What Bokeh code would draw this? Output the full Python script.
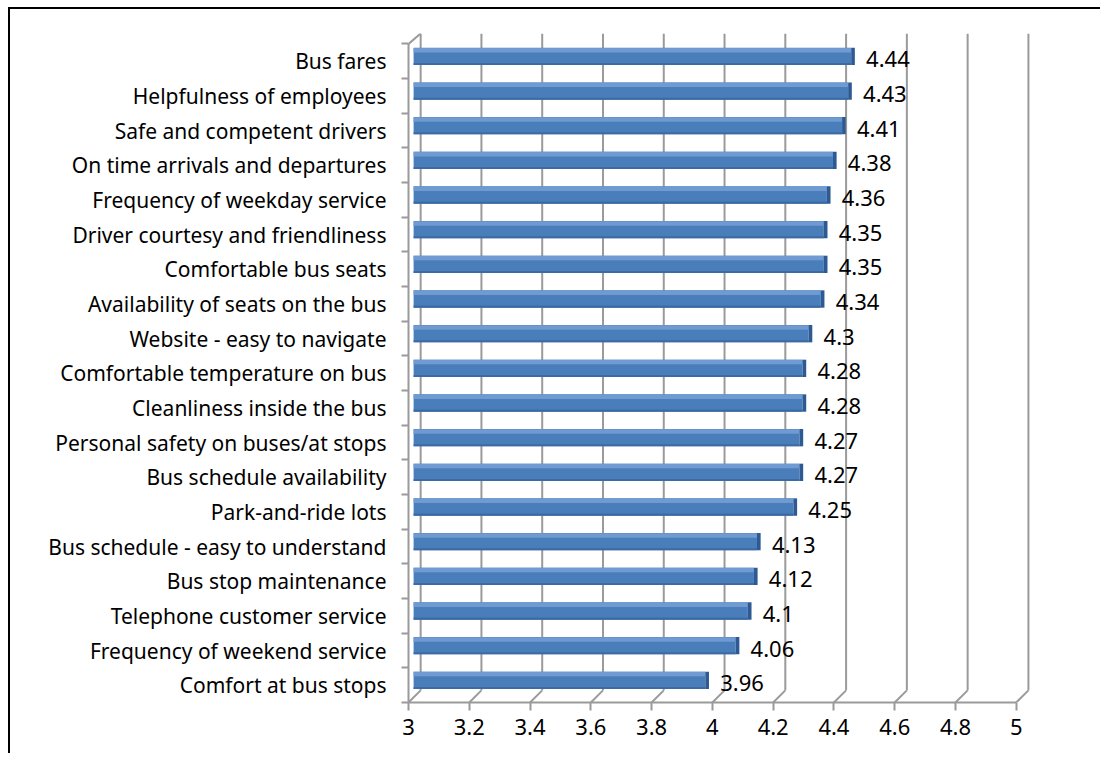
from bokeh.plotting import figure
from bokeh.models import FixedTicker, Range1d, ColumnDataSource
from bokeh.core.properties import value
from bokeh.embed import file_html
from bokeh.resources import INLINE

categories = [
    "Bus fares",
    "Helpfulness of employees",
    "Safe and competent drivers",
    "On time arrivals and departures",
    "Frequency of weekday service",
    "Driver courtesy and friendliness",
    "Comfortable bus seats",
    "Availability of seats on the bus",
    "Website - easy to navigate",
    "Comfortable temperature on bus",
    "Cleanliness inside the bus",
    "Personal safety on buses/at stops",
    "Bus schedule availability",
    "Park-and-ride lots",
    "Bus schedule - easy to understand",
    "Bus stop maintenance",
    "Telephone customer service",
    "Frequency of weekend service",
    "Comfort at bus stops",
]
scores = [4.44, 4.43, 4.41, 4.38, 4.36, 4.35, 4.35, 4.34, 4.3, 4.28, 4.28,
          4.27, 4.27, 4.25, 4.13, 4.12, 4.1, 4.06, 3.96]
score_labels = ["4.44", "4.43", "4.41", "4.38", "4.36", "4.35", "4.35", "4.34", "4.3",
                "4.28", "4.28", "4.27", "4.27", "4.25", "4.13", "4.12", "4.1", "4.06", "3.96"]
x_ticks = [3.0, 3.2, 3.4, 3.6, 3.8, 4.0, 4.2, 4.4, 4.6, 4.8, 5.0]
x_tick_labels = ["3", "3.2", "3.4", "3.6", "3.8", "4", "4.2", "4.4", "4.6", "4.8", "5"]

FONT = "Noto Sans"
GRID = "#9a9a9a"
n = len(categories)
centers = [n - 1 - i + 0.5 for i in range(n)]
bounds = list(range(n + 1))

# 3D depth offsets (in data units)
DX = 0.04      # full depth, x
DY = 0.35      # full depth, y
hx = DX * 0.42
hy = DY * 0.40

p = figure(width=1092, height=746, output_backend="svg", toolbar_location=None,
           x_range=Range1d(3, 5.06), y_range=Range1d(0, n + 0.3),
           min_border_left=398, min_border_right=68, min_border_top=24,
           min_border_bottom=53, x_axis_location="below", y_axis_location="left")
p.styles = {"border-top": "2px solid black", "border-left": "2px solid black",
            "margin-left": "8px", "margin-top": "7px"}
p.outline_line_color = None
p.xgrid.visible = False
p.ygrid.visible = False
p.background_fill_color = "white"
p.border_fill_color = "white"

# back wall grid lines
gx0 = [t + DX for t in x_ticks]
p.segment(x0=gx0, y0=[n + 0.3] * len(x_ticks), x1=gx0, y1=[DY] * len(x_ticks),
          line_color=GRID, line_width=2)
p.segment(x0=gx0, y0=[DY] * len(x_ticks), x1=x_ticks, y1=[0] * len(x_ticks),
          line_color=GRID, line_width=2)
# left wall top edge
p.segment(x0=[3], y0=[n], x1=[3 + DX], y1=[n + 0.3], line_color=GRID, line_width=2)

src = ColumnDataSource(dict(
    y=[c + hy for c in centers],
    left=[3 + hx] * n,
    right=[s + hx for s in scores],
    cap_right=[s + hx + 0.012 for s in scores],
    top_y=[c + hy + 0.18 for c in centers],
    bot_y=[c + hy - 0.22 for c in centers],
    ly=centers,
    lx=scores,
    lab=score_labels,
))

# bar body
p.hbar(y="y", left="left", right="right", height=0.5, source=src,
       fill_color="#4A7EBB", line_color=None)
# top highlight
p.hbar(y="top_y", left="left", right="right", height=0.13, source=src,
       fill_color="#6F9AD2", line_color=None)
# bottom shade
p.hbar(y="bot_y", left="left", right="right", height=0.06, source=src,
       fill_color="#3C6AA3", line_color=None)
# right end cap
p.hbar(y="y", left="right", right="cap_right", height=0.5, source=src,
       fill_color="#2D5A92", line_color=None)

# value labels
p.text(x="lx", y="ly", text="lab", source=src, x_offset=20, y_offset=-2,
       text_font=value(FONT), text_font_size="22px", text_color="black",
       text_align="left", text_baseline="middle")

# x axis
xa = p.xaxis[0]
xa.bounds = (3, 5)
xa.ticker = FixedTicker(ticks=x_ticks)
xa.major_label_overrides = {t: l for t, l in zip(x_ticks, x_tick_labels)}
xa.axis_line_color = GRID
xa.axis_line_width = 2
xa.major_tick_line_color = GRID
xa.major_tick_line_width = 2
xa.major_tick_in = 0
xa.major_tick_out = 8
xa.minor_tick_line_color = None
xa.major_label_standoff = 8
xa.major_label_text_font = FONT
xa.major_label_text_font_size = "22px"
xa.major_label_text_color = "black"

# y axis
ya = p.yaxis[0]
ya.bounds = (0, n)
ya.ticker = FixedTicker(ticks=centers, minor_ticks=bounds)
ya.major_label_overrides = {c: name for c, name in zip(centers, categories)}
ya.axis_line_color = GRID
ya.axis_line_width = 2
ya.major_tick_line_color = None
ya.major_tick_in = 0
ya.major_tick_out = 0
ya.minor_tick_line_color = GRID
ya.minor_tick_line_width = 2
ya.minor_tick_in = 0
ya.minor_tick_out = 7
ya.major_label_standoff = 15
ya.major_label_text_font = FONT
ya.major_label_text_font_size = "21px"
ya.major_label_text_color = "black"

open("out.html", "w").write(file_html(p, INLINE))
